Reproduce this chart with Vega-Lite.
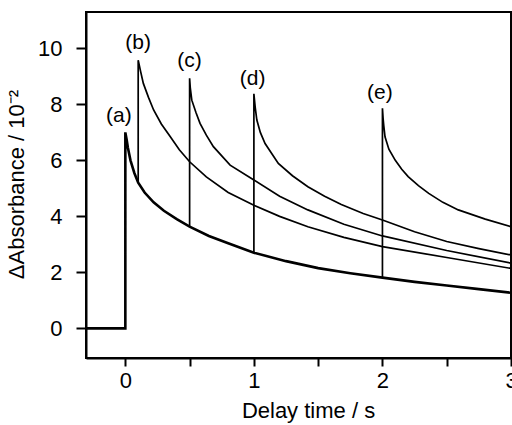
{
  "$schema": "https://vega.github.io/schema/vega-lite/v6.json",
  "width": 425,
  "height": 346,
  "autosize": "none",
  "padding": {"left": 86, "top": 12, "right": 1, "bottom": 67},
  "background": "white",
  "config": {
    "view": {"stroke": "black", "strokeWidth": 2},
    "font": "Liberation Sans",
    "axis": {"grid": false, "domainColor": "black", "domainWidth": 2, "tickColor": "black", "tickWidth": 2, "labelColor": "black", "titleColor": "black", "labelFont": "Liberation Sans", "titleFont": "Liberation Sans", "labelFontSize": 22, "titleFontSize": 22, "titleFontWeight": "normal"}
  },
  "datasets": {
    "thick": [
      {"s": "a", "i": 1, "t": -0.3, "v": 0},
      {"s": "a", "i": 2, "t": 0, "v": 0},
      {"s": "a", "i": 3, "t": 0, "v": 7.0},
      {"s": "a", "i": 4, "t": 0.01, "v": 6.75},
      {"s": "a", "i": 5, "t": 0.02, "v": 6.45},
      {"s": "a", "i": 6, "t": 0.04, "v": 6.0},
      {"s": "a", "i": 7, "t": 0.07, "v": 5.55},
      {"s": "a", "i": 8, "t": 0.1, "v": 5.2},
      {"s": "a", "i": 9, "t": 0.15, "v": 4.85},
      {"s": "a", "i": 10, "t": 0.22, "v": 4.5},
      {"s": "a", "i": 11, "t": 0.3, "v": 4.2},
      {"s": "a", "i": 12, "t": 0.4, "v": 3.9},
      {"s": "a", "i": 13, "t": 0.5, "v": 3.63},
      {"s": "a", "i": 14, "t": 0.65, "v": 3.3},
      {"s": "a", "i": 15, "t": 0.8, "v": 3.04},
      {"s": "a", "i": 16, "t": 1.0, "v": 2.7},
      {"s": "a", "i": 17, "t": 1.25, "v": 2.4},
      {"s": "a", "i": 18, "t": 1.5, "v": 2.15},
      {"s": "a", "i": 19, "t": 1.75, "v": 1.97},
      {"s": "a", "i": 20, "t": 2.0, "v": 1.81},
      {"s": "a", "i": 21, "t": 2.25, "v": 1.66},
      {"s": "a", "i": 22, "t": 2.5, "v": 1.53},
      {"s": "a", "i": 23, "t": 2.75, "v": 1.4},
      {"s": "a", "i": 24, "t": 3.0, "v": 1.27}
    ],
    "thin": [
      {"s": "b", "i": 1, "t": 0.1, "v": 5.2},
      {"s": "b", "i": 2, "t": 0.1, "v": 9.58},
      {"s": "b", "i": 3, "t": 0.12, "v": 9.15},
      {"s": "b", "i": 4, "t": 0.14, "v": 8.75},
      {"s": "b", "i": 5, "t": 0.18, "v": 8.25},
      {"s": "b", "i": 6, "t": 0.22, "v": 7.8},
      {"s": "b", "i": 7, "t": 0.28, "v": 7.3},
      {"s": "b", "i": 8, "t": 0.35, "v": 6.84},
      {"s": "b", "i": 9, "t": 0.42, "v": 6.38},
      {"s": "b", "i": 10, "t": 0.5, "v": 5.95},
      {"s": "b", "i": 11, "t": 0.63, "v": 5.41},
      {"s": "b", "i": 12, "t": 0.8, "v": 4.85},
      {"s": "b", "i": 13, "t": 1.0, "v": 4.4},
      {"s": "b", "i": 14, "t": 1.2, "v": 4.0},
      {"s": "b", "i": 15, "t": 1.42, "v": 3.63},
      {"s": "b", "i": 16, "t": 1.7, "v": 3.25},
      {"s": "b", "i": 17, "t": 2.0, "v": 2.92},
      {"s": "b", "i": 18, "t": 2.5, "v": 2.53},
      {"s": "b", "i": 19, "t": 3.0, "v": 2.14},
      {"s": "c", "i": 1, "t": 0.5, "v": 3.63},
      {"s": "c", "i": 2, "t": 0.5, "v": 8.93},
      {"s": "c", "i": 3, "t": 0.505, "v": 8.6},
      {"s": "c", "i": 4, "t": 0.517, "v": 8.15},
      {"s": "c", "i": 5, "t": 0.55, "v": 7.7},
      {"s": "c", "i": 6, "t": 0.581, "v": 7.32},
      {"s": "c", "i": 7, "t": 0.63, "v": 6.9},
      {"s": "c", "i": 8, "t": 0.685, "v": 6.49},
      {"s": "c", "i": 9, "t": 0.815, "v": 5.83},
      {"s": "c", "i": 10, "t": 1.0, "v": 5.3},
      {"s": "c", "i": 11, "t": 1.2, "v": 4.72},
      {"s": "c", "i": 12, "t": 1.42, "v": 4.23},
      {"s": "c", "i": 13, "t": 1.7, "v": 3.72},
      {"s": "c", "i": 14, "t": 2.0, "v": 3.3},
      {"s": "c", "i": 15, "t": 2.5, "v": 2.78},
      {"s": "c", "i": 16, "t": 3.0, "v": 2.33},
      {"s": "d", "i": 1, "t": 1.0, "v": 2.7},
      {"s": "d", "i": 2, "t": 1.0, "v": 8.38},
      {"s": "d", "i": 3, "t": 1.01, "v": 7.9},
      {"s": "d", "i": 4, "t": 1.023, "v": 7.44},
      {"s": "d", "i": 5, "t": 1.05, "v": 7.0},
      {"s": "d", "i": 6, "t": 1.087, "v": 6.6},
      {"s": "d", "i": 7, "t": 1.19, "v": 5.89},
      {"s": "d", "i": 8, "t": 1.3, "v": 5.45},
      {"s": "d", "i": 9, "t": 1.42, "v": 5.06},
      {"s": "d", "i": 10, "t": 1.55, "v": 4.72},
      {"s": "d", "i": 11, "t": 1.68, "v": 4.42},
      {"s": "d", "i": 12, "t": 1.85, "v": 4.1},
      {"s": "d", "i": 13, "t": 2.0, "v": 3.87},
      {"s": "d", "i": 14, "t": 2.25, "v": 3.45},
      {"s": "d", "i": 15, "t": 2.5, "v": 3.1},
      {"s": "d", "i": 16, "t": 2.75, "v": 2.85},
      {"s": "d", "i": 17, "t": 3.0, "v": 2.62},
      {"s": "e", "i": 1, "t": 2.0, "v": 1.81},
      {"s": "e", "i": 2, "t": 2.0, "v": 7.86},
      {"s": "e", "i": 3, "t": 2.005, "v": 7.5},
      {"s": "e", "i": 4, "t": 2.01, "v": 7.25},
      {"s": "e", "i": 5, "t": 2.02, "v": 6.84},
      {"s": "e", "i": 6, "t": 2.05, "v": 6.4},
      {"s": "e", "i": 7, "t": 2.1, "v": 6.0},
      {"s": "e", "i": 8, "t": 2.15, "v": 5.68},
      {"s": "e", "i": 9, "t": 2.2, "v": 5.42},
      {"s": "e", "i": 10, "t": 2.28, "v": 5.1},
      {"s": "e", "i": 11, "t": 2.36, "v": 4.82},
      {"s": "e", "i": 12, "t": 2.47, "v": 4.5},
      {"s": "e", "i": 13, "t": 2.59, "v": 4.23},
      {"s": "e", "i": 14, "t": 2.8, "v": 3.9},
      {"s": "e", "i": 15, "t": 3.0, "v": 3.63}
    ],
    "labels": [
      {"label": "(a)", "t": -0.05, "v": 7.6},
      {"label": "(b)", "t": 0.1, "v": 10.2},
      {"label": "(c)", "t": 0.5, "v": 9.55},
      {"label": "(d)", "t": 0.99, "v": 8.9},
      {"label": "(e)", "t": 1.98, "v": 8.4}
    ]
  },
  "layer": [
    {
      "data": {"name": "thin"},
      "mark": {"type": "line", "color": "black", "strokeWidth": 1.7, "clip": true},
      "encoding": {
        "x": {
          "field": "t", "type": "quantitative",
          "scale": {"domain": [-0.306, 3.0], "nice": false, "zero": false},
          "axis": {
            "title": "Delay time / s",
            "values": [0, 0.5, 1, 1.5, 2, 2.5, 3],
            "labelExpr": "datum.value % 1 == 0 ? format(datum.value, 'd') : ''",
            "tickSize": 8, "labelPadding": 4, "titlePadding": 9, "titleX": 222, "labelFlush": false
          }
        },
        "y": {
          "field": "v", "type": "quantitative",
          "scale": {"domain": [-1.06, 11.3], "nice": false, "zero": false},
          "axis": {
            "title": "ΔAbsorbance / 10⁻²",
            "values": [0, 2, 4, 6, 8, 10],
            "tickSize": 10, "labelPadding": 14, "titlePadding": 9, "titleY": 172
          }
        },
        "detail": {"field": "s", "type": "nominal"},
        "order": {"field": "i", "type": "quantitative"}
      }
    },
    {
      "data": {"name": "thick"},
      "mark": {"type": "line", "color": "black", "strokeWidth": 2.6, "clip": true},
      "encoding": {
        "x": {"field": "t", "type": "quantitative"},
        "y": {"field": "v", "type": "quantitative"},
        "order": {"field": "i", "type": "quantitative"}
      }
    },
    {
      "data": {"name": "labels"},
      "mark": {"type": "text", "fontSize": 21, "font": "Liberation Sans", "color": "black", "align": "center", "baseline": "middle"},
      "encoding": {
        "x": {"field": "t", "type": "quantitative"},
        "y": {"field": "v", "type": "quantitative"},
        "text": {"field": "label", "type": "nominal"}
      }
    }
  ]
}
